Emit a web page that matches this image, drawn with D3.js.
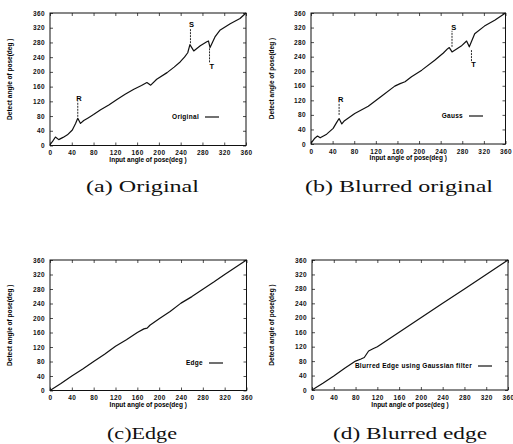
<!DOCTYPE html>
<html>
<head>
<meta charset="utf-8">
<script src="https://cdn.jsdelivr.net/npm/d3@7/dist/d3.min.js"></script>
<style>
  body { margin: 0; background: #fff; }
  svg { display: block; }
</style>
</head>
<body>
<div id="chart"></div>
<script>
// axis ticks, same on both axes
const angleTicks = [0, 40, 80, 120, 160, 200, 240, 280, 320, 360];

// [input angle, detected angle]
const originalData = [[0,2],[5,12],[10,23],[16,16],[24,22],[32,29],[41,42],[47,60],[51,74],[56,60],[62,68],[70,75],[80,84],[93,97],[108,110],[123,125],[138,139],[154,153],[168,163],[178,171],[185,164],[196,180],[215,198],[228,213],[239,227],[247,240],[253,252],[257,274],[264,257],[276,271],[288,282],[291,284],[294,266],[303,295],[312,313],[331,331],[349,345],[360,360]];
const gaussData = [[0,2],[7,16],[12,22],[17,17],[29,27],[41,43],[47,58],[52,70],[57,55],[62,64],[81,84],[106,104],[131,132],[155,159],[165,166],[174,171],[186,185],[205,203],[229,230],[245,250],[253,262],[256,265],[261,253],[278,269],[288,283],[293,267],[303,303],[321,324],[340,340],[360,360]];
const edgeData = [[0,0],[20,19],[40,40],[60,59],[80,80],[100,100],[120,122],[140,140],[160,160],[172,170],[178,172],[183,180],[200,198],[220,218],[240,241],[260,259],[280,279],[300,299],[320,320],[340,340],[360,360]];
const blurEdgeData = [[0,0],[20,19],[40,39],[60,60],[80,80],[90,86],[96,90],[104,108],[112,114],[120,120],[160,160],[200,200],[240,240],[280,280],[320,320],[360,360]];

// peak markers: label, x, line from y0 to y1, label at (lx, ly)
const originalMarks = [
  { label: "R", x: 51, y0: 78, y1: 120, lx: 53, ly: 127 },
  { label: "S", x: 258, y0: 278, y1: 318, lx: 260, ly: 329 },
  { label: "T", x: 293, y0: 264, y1: 226, lx: 297, ly: 216 }
];
const gaussMarks = [
  { label: "R", x: 52, y0: 80, y1: 114, lx: 55, ly: 124 },
  { label: "S", x: 261, y0: 267, y1: 311, lx: 264, ly: 321 },
  { label: "T", x: 297, y0: 258, y1: 226, lx: 301, ly: 218 }
];

const legendNames = ["Original", "Gauss", "Edge", "Blurred Edge using Gaussian filter"];
const captions = ["(a) Original", "(b) Blurred original", "(c)Edge", "(d) Blurred edge"];

const W = 513, H = 444;
const svg = d3.select("#chart").append("svg")
  .attr("width", W)
  .attr("height", H);

const panels = [
  { data: originalData, marks: originalMarks, box: [50, 13, 246, 145.5], ylab: 10, xlab: 159.5,
    legendEnd: 199, legendY: 117, cap: [86, 192, 113] },
  { data: gaussData, marks: gaussMarks, box: [311, 13, 505.5, 144], ylab: 272, xlab: 157.5,
    legendEnd: 463, legendY: 116, cap: [305, 192, 188] },
  { data: edgeData, marks: [], box: [50, 260, 246.5, 390.5], ylab: 10, xlab: 404.5,
    legendEnd: 203, legendY: 363, cap: [107, 439, 70] },
  { data: blurEdgeData, marks: [], box: [312, 260, 508, 390], ylab: 272, xlab: 404.5,
    legendEnd: 472, legendY: 366, cap: [333, 439, 154] }
];

panels.forEach((p, i) => {
  const [x0, y0, x1, y1] = p.box;
  const x = d3.scaleLinear().domain([0, 360]).range([x0, x1]);
  const y = d3.scaleLinear().domain([0, 360]).range([y1, y0]);
  const g = svg.append("g");

  // gnuplot style: ticks pointing in, on all four sides
  const tickStyle = (sel) => {
    sel.select(".domain").remove();
    sel.selectAll(".tick line").attr("stroke", "#222").attr("stroke-width", 0.8);
    sel.selectAll(".tick text")
      .attr("fill", "#111")
      .style("font-family", "'Liberation Sans', Arial, sans-serif")
      .style("font-size", "6.5px")
      .style("font-weight", "bold")
      .style("letter-spacing", "0.4px");
  };
  g.append("g").attr("transform", `translate(0,${y1})`)
    .call(d3.axisBottom(x).tickValues(angleTicks).tickSizeInner(-3).tickSizeOuter(0).tickPadding(5))
    .call(tickStyle);
  g.append("g").attr("transform", `translate(${x0},0)`)
    .call(d3.axisLeft(y).tickValues(angleTicks).tickSizeInner(-3).tickSizeOuter(0).tickPadding(5))
    .call(tickStyle);
  g.append("g").attr("transform", `translate(0,${y0})`)
    .call(d3.axisTop(x).tickValues(angleTicks).tickSizeInner(-3).tickSizeOuter(0).tickFormat(""))
    .call(tickStyle);
  g.append("g").attr("transform", `translate(${x1},0)`)
    .call(d3.axisRight(y).tickValues(angleTicks).tickSizeInner(-3).tickSizeOuter(0).tickFormat(""))
    .call(tickStyle);

  g.append("rect")
    .attr("x", x0).attr("y", y0)
    .attr("width", x1 - x0).attr("height", y1 - y0)
    .attr("fill", "none")
    .attr("stroke", "#111")
    .attr("stroke-width", 1);

  // the curve
  const line = d3.line().x(d => x(d[0])).y(d => y(d[1]));
  g.append("path")
    .datum(p.data)
    .attr("d", line)
    .attr("fill", "none")
    .attr("stroke", "#111")
    .attr("stroke-width", 1.2)
    .attr("stroke-linejoin", "round");

  // R / S / T markers
  p.marks.forEach(m => {
    g.append("line")
      .attr("x1", x(m.x)).attr("x2", x(m.x))
      .attr("y1", y(m.y0)).attr("y2", y(m.y1))
      .attr("stroke", "#111").attr("stroke-width", 0.9)
      .attr("stroke-dasharray", "2,1");
    g.append("text")
      .attr("x", x(m.lx)).attr("y", y(m.ly))
      .attr("dy", "0.35em")
      .attr("text-anchor", "middle")
      .style("font-family", "'Liberation Sans', Arial, sans-serif")
      .style("font-size", "7.5px")
      .style("font-weight", "bold")
      .text(m.label);
  });

  // legend entry
  g.append("text")
    .attr("x", p.legendEnd).attr("y", p.legendY)
    .attr("dy", "0.35em")
    .attr("text-anchor", "end")
    .style("font-family", "'Liberation Sans', Arial, sans-serif")
    .style("font-size", "6.5px")
    .style("font-weight", "bold")
    .style("letter-spacing", "0.3px")
    .text(legendNames[i]);
  g.append("line")
    .attr("x1", p.legendEnd + 6).attr("x2", p.legendEnd + 20)
    .attr("y1", p.legendY).attr("y2", p.legendY)
    .attr("stroke", "#111").attr("stroke-width", 1.2);

  // axis titles
  g.append("text")
    .attr("x", (x0 + x1) / 2).attr("y", p.xlab)
    .attr("dy", "0.35em")
    .attr("text-anchor", "middle")
    .style("font-family", "'Liberation Sans', Arial, sans-serif")
    .style("font-size", "6.5px")
    .style("font-weight", "bold")
    .text("Input angle of pose(deg )");
  g.append("text")
    .attr("transform", `translate(${p.ylab},${(y0 + y1) / 2}) rotate(-90)`)
    .attr("dy", "0.35em")
    .attr("text-anchor", "middle")
    .style("font-family", "'Liberation Sans', Arial, sans-serif")
    .style("font-size", "6.5px")
    .style("font-weight", "bold")
    .text("Detect angle of pose(deg )");

  // caption under the panel
  svg.append("text")
    .attr("x", p.cap[0]).attr("y", p.cap[1])
    .attr("textLength", p.cap[2])
    .attr("lengthAdjust", "spacingAndGlyphs")
    .style("font-family", "'Liberation Serif', 'Times New Roman', serif")
    .style("font-size", "16px")
    .attr("fill", "#111")
    .text(captions[i]);
});
</script>
</body>
</html>
